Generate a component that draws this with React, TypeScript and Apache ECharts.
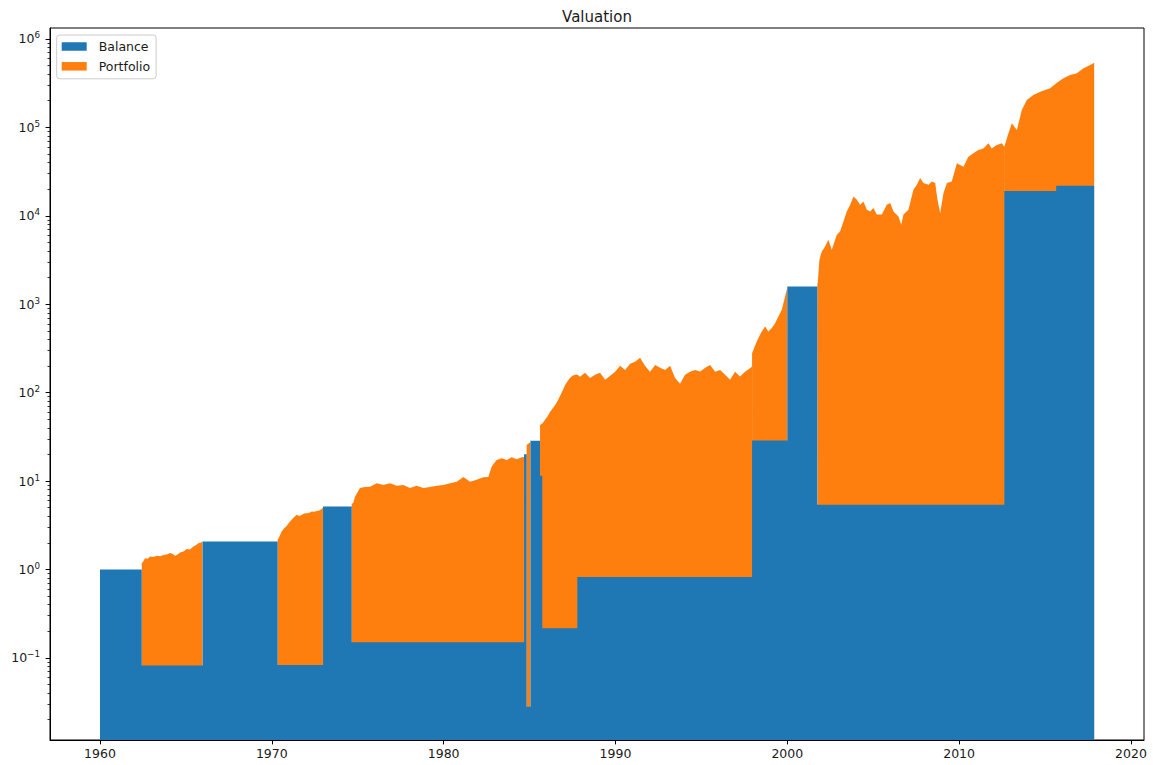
import { useEffect, useRef } from 'react';
import * as echarts from 'echarts';

const FONT = "'DejaVu Sans', sans-serif";
const TEXT = '#1a1a1a';
const BLUE = '#1f77b4';
const ORANGE = '#ff7f0e';

const chartTitle = 'Valuation';
const seriesNames = ['Balance', 'Portfolio'];
const xTicks = [1960, 1970, 1980, 1990, 2000, 2010, 2020];
const yTicks = [0.1, 1, 10, 100, 1e3, 1e4, 1e5, 1e6];
const yMinorSubs = [2, 3, 4, 5, 6, 7, 8, 9];
const yMinorDecades = [0.01, 0.1, 1, 10, 100, 1e3, 1e4, 1e5];
const xRange = [1957.09, 2020.76];
const yRange = [0.0118, 1.328e6];

// Cash balance: [start year, value] held until the next start
const balanceSteps: [number, number][] = [
  [1960.0, 1.0],
  [1962.43, 0.082],
  [1965.97, 2.07],
  [1970.34, 0.083],
  [1972.98, 5.15],
  [1974.65, 0.15],
  [1984.68, 20.1],
  [1984.83, 0.028],
  [1985.05, 28.5],
  [1985.61, 11.5],
  [1985.74, 0.217],
  [1987.78, 0.82],
  [1997.95, 28.7],
  [2000.0, 1590],
  [2001.75, 5.4],
  [2012.63, 19000],
  [2015.65, 21800],
];
const balanceEnd = 2017.86;

// Portfolio market value [year, value] per holding period
const portfolio1962: [number, number][] = [
  [1962.43, 1.10], [1962.48, 1.12], [1962.62, 1.26], [1962.78, 1.24], [1962.91, 1.32],
  [1963.10, 1.30], [1963.30, 1.35], [1963.50, 1.33], [1963.69, 1.38], [1963.88, 1.40],
  [1964.07, 1.45], [1964.22, 1.42], [1964.37, 1.35], [1964.52, 1.40], [1964.66, 1.47],
  [1964.85, 1.52], [1965.05, 1.62], [1965.24, 1.60], [1965.43, 1.74], [1965.58, 1.80],
  [1965.72, 1.90], [1965.85, 1.93], [1965.965, 1.99],
];
const portfolio1970: [number, number][] = [
  [1970.34, 2.10], [1970.45, 2.30], [1970.57, 2.60], [1970.72, 2.85], [1970.86, 3.03],
  [1971.00, 3.30], [1971.15, 3.56], [1971.30, 3.85], [1971.45, 4.07], [1971.60, 3.95],
  [1971.73, 4.05], [1971.88, 4.20], [1972.03, 4.25], [1972.18, 4.30], [1972.32, 4.44],
  [1972.47, 4.40], [1972.61, 4.50], [1972.76, 4.55], [1972.90, 4.75], [1972.975, 4.95],
];
const portfolio1974: [number, number][] = [
  [1974.65, 5.4], [1974.74, 5.5], [1974.84, 6.5], [1975.13, 8.2], [1975.42, 8.4],
  [1975.72, 8.5], [1976.11, 9.3], [1976.49, 8.9], [1976.88, 9.3], [1977.27, 8.7],
  [1977.65, 8.9], [1978.04, 8.2], [1978.43, 8.7], [1978.82, 8.2], [1979.21, 8.4],
  [1979.60, 8.7], [1979.98, 8.9], [1980.37, 9.3], [1980.76, 9.7], [1981.15, 11.0],
  [1981.54, 9.7], [1981.92, 10.2], [1982.31, 10.9], [1982.60, 11.0], [1982.79, 14.4],
  [1983.08, 17.2], [1983.38, 18.0], [1983.67, 17.2], [1983.96, 18.4], [1984.25, 17.5],
  [1984.54, 18.4], [1984.675, 18.6],
];
const portfolio1984: [number, number][] = [
  [1984.83, 25.5], [1984.94, 26.5], [1985.045, 27.5],
];
const portfolio1985: [number, number][] = [
  [1985.61, 31.5], [1985.73, 33], [1985.75, 45], [1985.90, 49], [1986.05, 54],
  [1986.19, 60], [1986.34, 66], [1986.48, 72], [1986.63, 80], [1986.78, 92],
  [1986.92, 105], [1987.07, 122], [1987.22, 135], [1987.36, 147], [1987.50, 155],
  [1987.65, 159], [1987.79, 158], [1987.94, 150], [1988.23, 167], [1988.52, 146],
  [1988.81, 158], [1989.10, 167], [1989.40, 139], [1989.69, 154], [1989.98, 171],
  [1990.27, 200], [1990.56, 180], [1990.85, 211], [1991.14, 222], [1991.43, 247],
  [1991.72, 200], [1992.01, 171], [1992.31, 205], [1992.60, 190], [1992.89, 180],
  [1993.18, 200], [1993.47, 146], [1993.76, 125], [1994.05, 158], [1994.34, 171],
  [1994.63, 180], [1994.93, 172], [1995.22, 190], [1995.51, 205], [1995.80, 171],
  [1996.09, 180], [1996.38, 158], [1996.67, 139], [1996.96, 171], [1997.25, 151],
  [1997.54, 171], [1997.83, 188], [1997.945, 196],
];
const portfolio1998: [number, number][] = [
  [1997.95, 250], [1998.03, 276], [1998.22, 349], [1998.51, 462], [1998.71, 531],
  [1998.90, 462], [1999.10, 508], [1999.29, 582], [1999.48, 697], [1999.68, 835],
  [1999.87, 1193], [1999.995, 1492],
];
const portfolio2001: [number, number][] = [
  [2001.75, 1700], [2001.77, 1730], [2001.87, 3170], [2002.01, 3940], [2002.20, 4490],
  [2002.39, 5350], [2002.59, 4120], [2002.88, 6090], [2003.07, 6640], [2003.27, 8620],
  [2003.46, 11200], [2003.66, 13300], [2003.85, 16500], [2004.05, 15200], [2004.24, 13300],
  [2004.43, 14500], [2004.63, 11700], [2004.82, 11200], [2005.01, 12200], [2005.21, 10300],
  [2005.50, 10300], [2005.79, 13300], [2005.99, 13900], [2006.18, 11200], [2006.47, 9810],
  [2006.63, 7900], [2006.76, 10300], [2007.05, 11700], [2007.34, 19700], [2007.54, 22400],
  [2007.73, 26700], [2007.92, 23400], [2008.22, 22400], [2008.41, 24400], [2008.61, 23400],
  [2008.74, 15200], [2008.90, 10700], [2009.09, 18100], [2009.29, 23400], [2009.57, 24400],
  [2009.87, 39200], [2010.25, 35800], [2010.54, 46400], [2010.83, 50800], [2011.12, 55400],
  [2011.41, 57800], [2011.71, 65900], [2011.90, 57800], [2012.19, 63100], [2012.49, 65900],
  [2012.625, 60400],
];
const portfolio2012: [number, number][] = [
  [2012.63, 41400], [2012.87, 66500], [2013.07, 92000], [2013.36, 74100], [2013.65, 138000],
  [2013.94, 185000], [2014.32, 213000], [2014.72, 234000], [2015.30, 257000], [2015.65, 294000],
  [2016.07, 336000], [2016.46, 369000], [2016.85, 386000], [2017.24, 443000], [2017.63, 485000],
  [2017.86, 516000],
];
const portfolioPeriods = [
  portfolio1962, portfolio1970, portfolio1974, portfolio1984,
  portfolio1985, portfolio1998, portfolio2001, portfolio2012,
];

function balanceAt(t: number): number {
  let v = balanceSteps[0][1];
  for (const [s, b] of balanceSteps) if (t >= s - 1e-9) v = b;
  return v;
}

function buildOption() {
  const balanceLine: (number | null)[][] = [];
  balanceSteps.forEach(([s, v], i) => {
    const e = i + 1 < balanceSteps.length ? balanceSteps[i + 1][0] : balanceEnd;
    balanceLine.push([s, v], [e, v]);
  });
  const stackTop: (number | null)[][] = [];
  portfolioPeriods.forEach((seg) => {
    seg.forEach(([t, p]) => stackTop.push([t, balanceAt(t) + p]));
    stackTop.push([seg[seg.length - 1][0], null]);
  });
  const minor: number[] = [];
  yMinorDecades.forEach((d) => yMinorSubs.forEach((s) => {
    const v = d * s;
    if (v >= yRange[0] && v <= yRange[1]) minor.push(v);
  }));

  const supText = (v: number) => {
    const e = Math.round(Math.log10(v));
    const s = e < 0 ? '\u2212' + -e : String(e);
    return `{b|10}{s|${s}}`;
  };

  return {
    animation: false,
    backgroundColor: '#fff',
    title: {
      text: chartTitle,
      left: 597,
      top: 9,
      padding: 0,
      textAlign: 'center',
      textStyle: { fontFamily: FONT, fontSize: 15, fontWeight: 'normal', color: TEXT },
    },
    legend: {
      data: seriesNames,
      orient: 'vertical',
      left: 56.7,
      top: 35,
      padding: [5, 6, 6, 5],
      itemWidth: 25,
      itemHeight: 8.5,
      itemGap: 6.8,
      icon: 'rect',
      backgroundColor: 'rgba(255,255,255,0.8)',
      borderColor: '#cccccc',
      borderWidth: 1,
      borderRadius: 3,
      itemStyle: { borderWidth: 0 },
      textStyle: { fontFamily: FONT, fontSize: 12.5, color: TEXT, padding: [0, 0, 0, 7] },
    },
    grid: {
      left: 50, right: 9, top: 28, bottom: 25,
      show: true, borderColor: '#000', borderWidth: 1, backgroundColor: 'transparent',
    },
    xAxis: {
      type: 'value',
      min: xRange[0],
      max: xRange[1],
      z: 10,
      splitLine: { show: false },
      axisLine: { show: true, lineStyle: { color: '#000', width: 1 } },
      axisTick: { show: true, length: 4.4, customValues: xTicks, lineStyle: { color: '#000', width: 1 } },
      axisLabel: {
        customValues: xTicks, margin: 7, fontFamily: FONT, fontSize: 12.5, color: TEXT,
        formatter: (v: number) => String(Math.round(v)),
      },
    },
    yAxis: [
      {
        type: 'log',
        min: yRange[0],
        max: yRange[1],
        z: 10,
        splitLine: { show: false },
        axisLine: { show: true, lineStyle: { color: '#000', width: 1 } },
        axisTick: { show: true, length: 4.4, customValues: yTicks, lineStyle: { color: '#000', width: 1 } },
        axisLabel: {
          customValues: yTicks,
          margin: 10,
          formatter: supText,
          rich: {
            b: { fontFamily: FONT, fontSize: 12.5, color: TEXT, lineHeight: 16 },
            s: { fontFamily: FONT, fontSize: 8.75, color: TEXT, lineHeight: 8, verticalAlign: 'top' },
          },
        },
      },
      {
        type: 'log',
        min: yRange[0],
        max: yRange[1],
        position: 'left',
        z: 10,
        splitLine: { show: false },
        axisLine: { show: false },
        axisLabel: { show: false },
        axisTick: { show: true, length: 2.5, customValues: minor, lineStyle: { color: '#000', width: 0.8 } },
      },
    ],
    series: [
      {
        name: 'Portfolio',
        type: 'line',
        data: stackTop,
        symbol: 'none',
        connectNulls: false,
        color: ORANGE,
        itemStyle: { color: ORANGE },
        lineStyle: { width: 0 },
        areaStyle: { color: ORANGE, opacity: 1, origin: 'start' },
        silent: true,
      },
      {
        name: 'Balance',
        type: 'line',
        data: balanceLine,
        symbol: 'none',
        color: BLUE,
        itemStyle: { color: BLUE },
        lineStyle: { width: 0 },
        areaStyle: { color: BLUE, opacity: 1, origin: 'start' },
        silent: true,
      },
    ],
  };
}

export default function App() {
  const ref = useRef<HTMLDivElement>(null);
  useEffect(() => {
    const chart = echarts.init(ref.current!, null, { renderer: 'svg' });
    chart.setOption(buildOption() as any);
    return () => chart.dispose();
  }, []);
  return (
    <div
      ref={ref}
      style={{ position: 'fixed', left: 0, top: 0, width: 1153, height: 765, background: '#fff' }}
    />
  );
}
